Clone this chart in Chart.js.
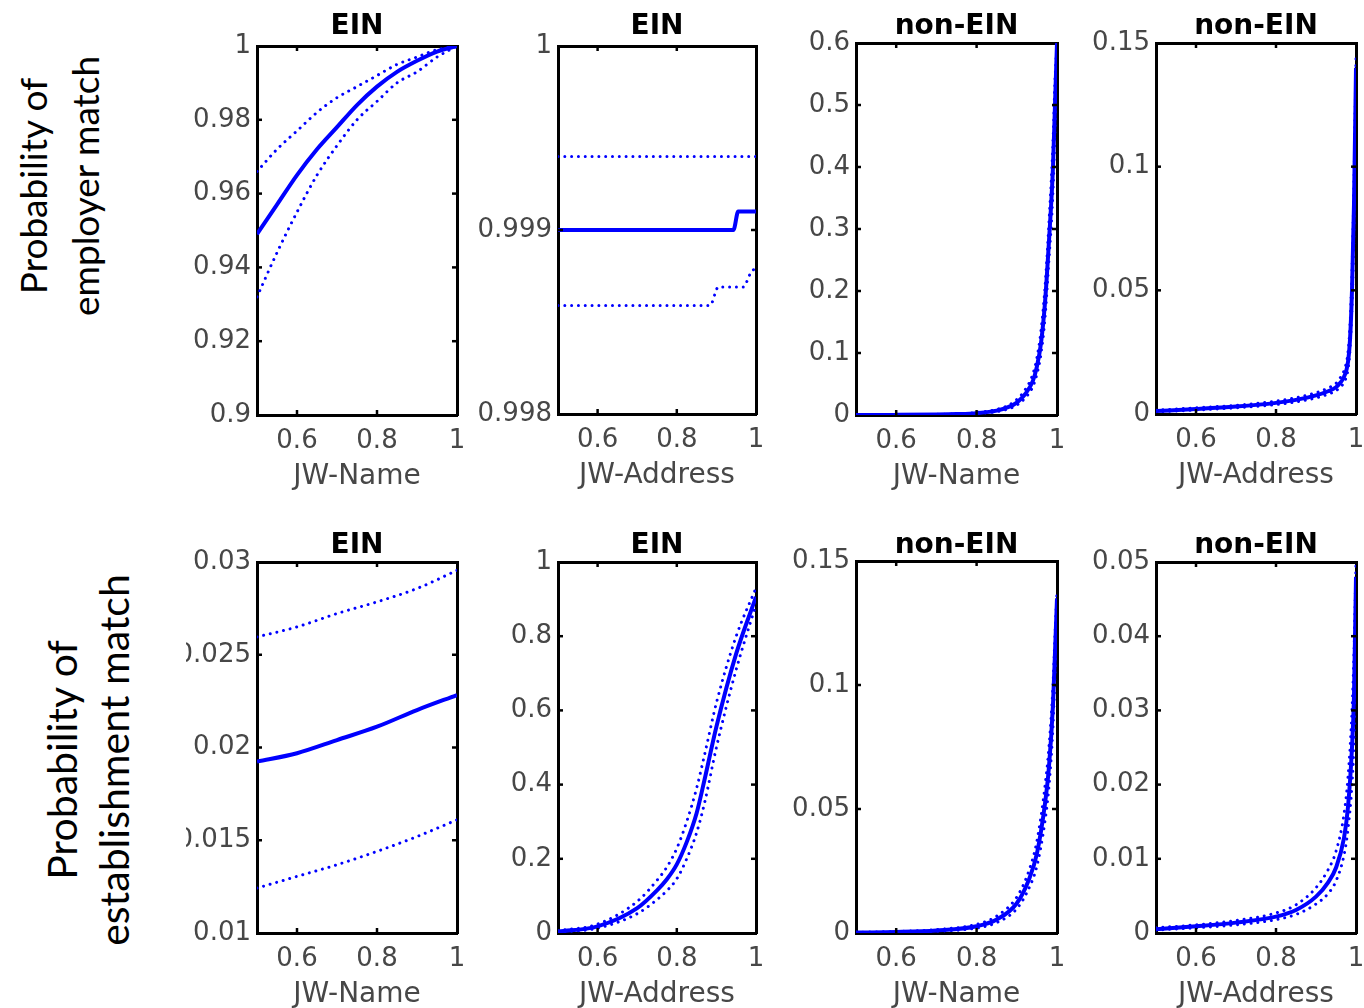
<!DOCTYPE html>
<html>
<head>
<meta charset="utf-8">
<script src="https://cdn.jsdelivr.net/npm/chart.js@4.4.1/dist/chart.umd.min.js"></script>
<style>
  html, body { margin:0; padding:0; background:#fff; overflow:hidden; width:1364px; height:1008px; }
  canvas { position:absolute; }
  .ylab { position:absolute; transform:rotate(-90deg); text-align:center; font-family:Lato, "Open Sans", sans-serif; color:#000; white-space:nowrap; }
</style>
</head>
<body>
<div class="ylab" id="ylab1">Probability of<br>employer match</div>
<div class="ylab" id="ylab2">Probability of<br>establishment match</div>
<script>
// ---------------- DATA ----------------
const rowTitles = ["EIN", "EIN", "non-EIN", "non-EIN"];
const xLabels   = ["JW-Name", "JW-Address", "JW-Name", "JW-Address"];
const xTicks    = [0.6, 0.8, 1];

// Panel A: employer, EIN, JW-Name
const xA   = [0.5, 0.55, 0.6, 0.65, 0.7, 0.75, 0.8, 0.85, 0.9, 0.95, 1.0];
const midA = [0.949, 0.957, 0.965, 0.972, 0.978, 0.984, 0.989, 0.993, 0.996, 0.9985, 1.0];
const upA  = [0.966, 0.972, 0.977, 0.982, 0.986, 0.989, 0.992, 0.995, 0.997, 0.999, 1.0];
const loA  = [0.932, 0.944, 0.955, 0.965, 0.973, 0.980, 0.985, 0.990, 0.993, 0.997, 1.0];
const yTicksA = [0.9, 0.92, 0.94, 0.96, 0.98, 1];

// Panel B: employer, EIN, JW-Address
const xBmid = [0.5, 0.943, 0.955, 1.0];
const midB  = [0.999, 0.999, 0.9991, 0.9991];
const xBup  = [0.5, 1.0];
const upB   = [0.9994, 0.9994];
const xBlo  = [0.5, 0.884, 0.905, 0.968, 0.985, 1.0];
const loB   = [0.99859, 0.99859, 0.99869, 0.99869, 0.99876, 0.9988];
const yTicksB = [0.998, 0.999, 1];

// Panel C: employer, non-EIN, JW-Name
const xC   = [0.5, 0.6, 0.7, 0.75, 0.8, 0.85, 0.88, 0.9, 0.92, 0.94, 0.95, 0.96, 0.97, 0.98, 0.99, 0.995, 1.0];
const midC = [0, 0.0002, 0.0008, 0.0015, 0.003, 0.007, 0.013, 0.02, 0.033, 0.055, 0.078, 0.115, 0.18, 0.28, 0.40, 0.50, 0.60];
const upC  = [0, 0.0003, 0.001, 0.002, 0.004, 0.009, 0.016, 0.025, 0.040, 0.066, 0.092, 0.135, 0.205, 0.31, 0.44, 0.54, 0.60];
const loC  = [0, 0.0001, 0.0006, 0.0011, 0.0022, 0.0055, 0.010, 0.016, 0.027, 0.046, 0.066, 0.098, 0.155, 0.25, 0.36, 0.46, 0.58];
const yTicksC = [0, 0.1, 0.2, 0.3, 0.4, 0.5, 0.6];

// Panel D: employer, non-EIN, JW-Address
const xD   = [0.5, 0.6, 0.7, 0.8, 0.85, 0.9, 0.93, 0.95, 0.96, 0.97, 0.98, 0.985, 0.99, 0.995, 1.0];
const midD = [0.0012, 0.002, 0.003, 0.0045, 0.0057, 0.0075, 0.0092, 0.0108, 0.0125, 0.015, 0.021, 0.030, 0.050, 0.085, 0.140];
const upD  = [0.0015, 0.0025, 0.0035, 0.0052, 0.0066, 0.0086, 0.0105, 0.0124, 0.0145, 0.0175, 0.025, 0.036, 0.058, 0.095, 0.145];
const loD  = [0.0009, 0.0016, 0.0025, 0.0038, 0.0049, 0.0065, 0.0080, 0.0094, 0.0108, 0.0128, 0.018, 0.026, 0.043, 0.075, 0.135];
const yTicksD = [0, 0.05, 0.1, 0.15];

// Panel E: establishment, EIN, JW-Name
const xE   = [0.5, 0.6, 0.7, 0.8, 0.9, 1.0];
const midE = [0.01924, 0.01969, 0.0204, 0.02112, 0.02202, 0.02283];
const upE  = [0.02596, 0.0265, 0.02722, 0.02785, 0.02857, 0.02955];
const loE  = [0.01242, 0.01305, 0.01368, 0.0144, 0.0152, 0.0161];
const yTicksE = [0.01, 0.015, 0.02, 0.025, 0.03];

// Panel F: establishment, EIN, JW-Address
const xF   = [0.5, 0.6, 0.7, 0.75, 0.775, 0.8, 0.825, 0.85, 0.87, 0.9, 0.95, 1.0];
const midF = [0.004, 0.018, 0.067, 0.115, 0.145, 0.185, 0.245, 0.323, 0.413, 0.556, 0.753, 0.906];
const upF  = [0.006, 0.024, 0.085, 0.142, 0.178, 0.228, 0.300, 0.39, 0.48, 0.62, 0.80, 0.93];
const loF  = [0.002, 0.013, 0.052, 0.090, 0.114, 0.146, 0.200, 0.27, 0.35, 0.50, 0.71, 0.885];
const yTicksF = [0, 0.2, 0.4, 0.6, 0.8, 1];

// Panel G: establishment, non-EIN, JW-Name
const xG   = [0.5, 0.6, 0.7, 0.8, 0.85, 0.9, 0.93, 0.95, 0.97, 0.98, 0.99, 0.995, 1.0];
const midG = [0.0002, 0.0004, 0.001, 0.0027, 0.0054, 0.012, 0.0215, 0.032, 0.052, 0.067, 0.092, 0.113, 0.135];
const upG  = [0.0003, 0.0006, 0.0014, 0.0035, 0.0068, 0.0145, 0.025, 0.037, 0.059, 0.075, 0.100, 0.120, 0.138];
const loG  = [0.0001, 0.0003, 0.0007, 0.002, 0.0042, 0.0098, 0.018, 0.027, 0.045, 0.059, 0.083, 0.104, 0.128];
const yTicksG = [0, 0.05, 0.1, 0.15];

// Panel H: establishment, non-EIN, JW-Address
const xH   = [0.5, 0.6, 0.7, 0.8, 0.85, 0.9, 0.93, 0.95, 0.97, 0.98, 0.99, 0.995, 1.0];
const midH = [0.0005, 0.0009, 0.0014, 0.0022, 0.0031, 0.0049, 0.0068, 0.0088, 0.0128, 0.017, 0.025, 0.032, 0.048];
const upH  = [0.0007, 0.0011, 0.0017, 0.0027, 0.0038, 0.0061, 0.0085, 0.011, 0.016, 0.021, 0.030, 0.038, 0.050];
const loH  = [0.0004, 0.0007, 0.0011, 0.0018, 0.0025, 0.0039, 0.0053, 0.007, 0.0105, 0.014, 0.020, 0.026, 0.040];
const yTicksH = [0, 0.01, 0.02, 0.03, 0.04, 0.05];

// ---------------- LAYOUT ----------------
const colL = [257, 558, 856, 1156];
const colR = [457, 756, 1057, 1356];
const plotTop = [[46, 46, 43, 43], [562, 562, 561, 562]];
const plotBot = [[415, 414, 415, 414], [933, 933, 933, 933]];
const titleY = [24, 543];
const titleNudge = 3;
const firstColCanvasLeft = 186;
const padT = 46, padB = 79;

const panels = [
  { row:0, col:0, yMin:0.9,   yMax:1,    yTicks:yTicksA, mid:[xA,midA], up:[xA,upA], lo:[xA,loA] },
  { row:0, col:1, yMin:0.998, yMax:1,    yTicks:yTicksB, mid:[xBmid,midB], up:[xBup,upB], lo:[xBlo,loB] },
  { row:0, col:2, yMin:0,     yMax:0.6,  yTicks:yTicksC, mid:[xC,midC], up:[xC,upC], lo:[xC,loC] },
  { row:0, col:3, yMin:0,     yMax:0.15, yTicks:yTicksD, mid:[xD,midD], up:[xD,upD], lo:[xD,loD] },
  { row:1, col:0, yMin:0.01,  yMax:0.03, yTicks:yTicksE, mid:[xE,midE], up:[xE,upE], lo:[xE,loE] },
  { row:1, col:1, yMin:0,     yMax:1,    yTicks:yTicksF, mid:[xF,midF], up:[xF,upF], lo:[xF,loF] },
  { row:1, col:2, yMin:0,     yMax:0.15, yTicks:yTicksG, mid:[xG,midG], up:[xG,upG], lo:[xG,loG] },
  { row:1, col:3, yMin:0,     yMax:0.05, yTicks:yTicksH, mid:[xH,midH], up:[xH,upH], lo:[xH,loH] },
];

const BLUE = '#0000ff';
const TICKCOL = '#474747';
const FONT = '"DejaVu Sans", Verdana, sans-serif';
const fmt = v => String(+Number(v).toFixed(6));
const pts = (pair) => pair[0].map((x, i) => ({ x: x, y: pair[1][i] }));

const innerTicks = {
  id: 'innerTicks',
  afterDraw(chart) {
    const { ctx, chartArea: a, scales } = chart;
    const xs = scales.x, ys = scales.y;
    ctx.save();
    ctx.strokeStyle = '#000';
    ctx.lineWidth = 2.5;
    const len = 5;
    const seg = (x1, y1, x2, y2) => { ctx.beginPath(); ctx.moveTo(x1, y1); ctx.lineTo(x2, y2); ctx.stroke(); };
    xs.ticks.forEach(t => {
      const p = xs.getPixelForValue(t.value);
      if (p <= a.left + 3 || p >= a.right - 3) return;
      seg(p, a.bottom, p, a.bottom - len);
      seg(p, a.top, p, a.top + len);
    });
    ys.ticks.forEach(t => {
      const p = ys.getPixelForValue(t.value);
      if (p <= a.top + 3 || p >= a.bottom - 3) return;
      seg(a.left, p, a.left + len, p);
      seg(a.right, p, a.right - len, p);
    });
    ctx.restore();
  }
};

panels.forEach((P) => {
  const L = colL[P.col], R = colR[P.col];
  const T = plotTop[P.row][P.col], B = plotBot[P.row][P.col];
  const cLeft = P.col === 0 ? firstColCanvasLeft : L - 95;
  const cRight = R + 28;
  const padL = L - cLeft, padR = cRight - R;
  const tPad = padT + (T - plotTop[P.row][0]);
  const cTop = T - tPad;
  const W = cRight - cLeft, H = (B - T) + tPad + padB;
  const titleTopPad = (titleY[P.row] - cTop) - 16.8 + titleNudge;

  const cv = document.createElement('canvas');
  cv.width = W; cv.height = H;
  cv.style.left = cLeft + 'px'; cv.style.top = cTop + 'px';
  cv.style.width = W + 'px'; cv.style.height = H + 'px';
  document.body.appendChild(cv);

  const border = { display: true, color: '#000', width: 3 };
  const noGrid = { display: false, drawTicks: false };
  const dotted = { borderColor: BLUE, borderWidth: 3, borderDash: [0.01, 6.8], borderCapStyle: 'round', pointRadius: 0, fill: false, cubicInterpolationMode: 'monotone' };

  new Chart(cv.getContext('2d'), {
    type: 'line',
    data: {
      datasets: [
        Object.assign({ data: pts(P.up) }, dotted),
        Object.assign({ data: pts(P.lo) }, dotted),
        { data: pts(P.mid), borderColor: BLUE, borderWidth: 4, pointRadius: 0, fill: false, cubicInterpolationMode: 'monotone' }
      ]
    },
    options: {
      responsive: false,
      animation: false,
      devicePixelRatio: 1,
      layout: { padding: 0 },
      plugins: { legend: { display: false }, tooltip: { enabled: false }, title: { display: false } },
      scales: {
        x: {
          type: 'linear', position: 'bottom', min: 0.5, max: 1,
          afterBuildTicks: s => { s.ticks = xTicks.map(v => ({ value: v })); },
          afterFit: s => { s.height = padB; },
          grid: noGrid, border: border,
          ticks: { font: { family: FONT, size: 26 }, color: TICKCOL, padding: 11, autoSkip: false, maxRotation: 0, callback: v => fmt(v) },
          title: { display: true, text: xLabels[P.col], font: { family: FONT, size: 28 }, color: TICKCOL, padding: { top: 0, bottom: 0 } }
        },
        x2: {
          type: 'linear', position: 'top', min: 0.5, max: 1,
          afterFit: s => { s.height = tPad; },
          grid: noGrid, border: border,
          ticks: { display: false },
          title: { display: true, text: rowTitles[P.col], font: { family: FONT, size: 28, weight: 'bold' }, color: '#000', padding: { top: titleTopPad, bottom: 0 } }
        },
        y: {
          type: 'linear', position: 'left', min: P.yMin, max: P.yMax,
          afterBuildTicks: s => { s.ticks = P.yTicks.map(v => ({ value: v })); },
          afterFit: s => { s.width = padL; },
          grid: noGrid, border: border,
          ticks: { font: { family: FONT, size: 26 }, color: TICKCOL, padding: 6, autoSkip: false, callback: v => fmt(v) }
        },
        y2: {
          type: 'linear', position: 'right', min: P.yMin, max: P.yMax,
          afterFit: s => { s.width = padR; },
          grid: noGrid, border: border,
          ticks: { display: false }
        }
      }
    },
    plugins: [innerTicks]
  });
});

// Row labels (rotated)
function placeLabel(id, cx, cy, size) {
  const el = document.getElementById(id);
  const w = 460, h = 104;
  el.style.width = w + 'px'; el.style.height = h + 'px';
  el.style.left = (cx - w / 2) + 'px'; el.style.top = (cy - h / 2) + 'px';
  el.style.fontSize = size + 'px'; el.style.lineHeight = (h / 2) + 'px';
}
placeLabel('ylab1', 59, 186, 37);
placeLabel('ylab2', 88, 760, 41);
</script>
</body>
</html>
